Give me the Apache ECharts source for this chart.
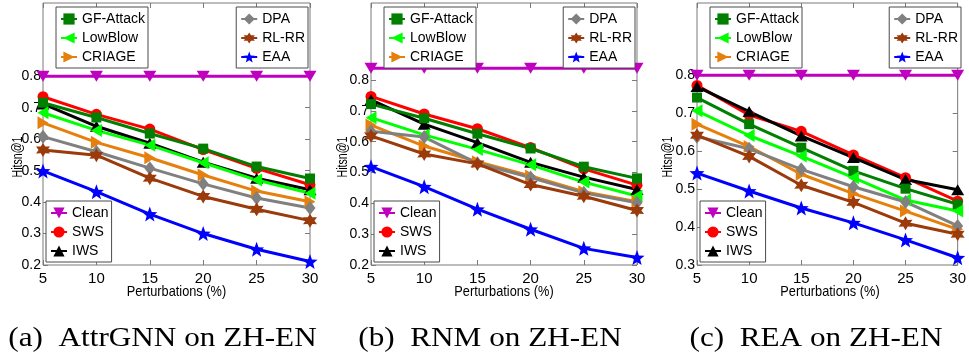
<!DOCTYPE html>
<html>
<head>
<meta charset="utf-8">
<script src="https://cdn.jsdelivr.net/npm/echarts@6/dist/echarts.min.js"></script>
<style>
  html, body { margin: 0; padding: 0; background: #fff; }
  #chart { width: 969px; height: 358px; }
</style>
</head>
<body>
<div id="chart"></div>
<script>
// Perturbation rates (%) on the x axis, shared by the three panels
const perturbations = [5, 10, 15, 20, 25, 30];
const xTicks = [5, 10, 15, 20, 25, 30];

// Panel titles and axis titles
const panelTitles = ['(a)  AttrGNN on ZH-EN', '(b)  RNM on ZH-EN', '(c)  REA on ZH-EN'];
const xTitle = 'Perturbations (%)';
const yTitle = 'Hitsn@1';

// Y tick labels per panel
const yTicksA = [0.2, 0.3, 0.4, 0.5, 0.6, 0.7, 0.8];
const yTicksB = [0.2, 0.3, 0.4, 0.5, 0.6, 0.7, 0.8];
const yTicksC = [0.3, 0.4, 0.5, 0.6, 0.7, 0.8];

// Hits@1 of AttrGNN on ZH-EN
const attrgnnGFAttack = [0.716, 0.669, 0.618, 0.570, 0.513, 0.475];
const attrgnnLowBlow  = [0.684, 0.628, 0.581, 0.525, 0.470, 0.428];
const attrgnnCRIAGE   = [0.652, 0.590, 0.541, 0.486, 0.435, 0.401];
const attrgnnDPA      = [0.608, 0.560, 0.508, 0.458, 0.413, 0.381];
const attrgnnRLRR     = [0.566, 0.549, 0.476, 0.418, 0.377, 0.341];
const attrgnnEAA      = [0.499, 0.433, 0.362, 0.300, 0.250, 0.211];
const attrgnnClean    = [0.800, 0.800, 0.800, 0.800, 0.800, 0.800];
const attrgnnSWS      = [0.735, 0.679, 0.632, 0.567, 0.507, 0.455];
const attrgnnIWS      = [0.712, 0.641, 0.587, 0.527, 0.476, 0.439];

// Hits@1 of RNM on ZH-EN
const rnmGFAttack = [0.722, 0.676, 0.626, 0.578, 0.519, 0.481];
const rnmLowBlow  = [0.678, 0.622, 0.575, 0.525, 0.469, 0.424];
const rnmCRIAGE   = [0.654, 0.586, 0.535, 0.489, 0.438, 0.405];
const rnmDPA      = [0.634, 0.615, 0.530, 0.484, 0.434, 0.402];
const rnmRLRR     = [0.619, 0.560, 0.528, 0.461, 0.423, 0.377];
const rnmEAA      = [0.519, 0.454, 0.381, 0.316, 0.254, 0.224];
const rnmClean    = [0.838, 0.838, 0.838, 0.838, 0.838, 0.838];
const rnmSWS      = [0.747, 0.690, 0.642, 0.581, 0.512, 0.459];
const rnmIWS      = [0.736, 0.657, 0.597, 0.533, 0.485, 0.445];

// Hits@1 of REA on ZH-EN
const reaGFAttack = [0.741, 0.671, 0.609, 0.548, 0.501, 0.460];
const reaLowBlow  = [0.706, 0.641, 0.587, 0.530, 0.471, 0.442];
const reaCRIAGE   = [0.671, 0.612, 0.539, 0.488, 0.442, 0.394];
const reaDPA      = [0.638, 0.606, 0.552, 0.506, 0.466, 0.403];
const reaRLRR     = [0.642, 0.586, 0.510, 0.465, 0.410, 0.381];
const reaEAA      = [0.542, 0.495, 0.450, 0.411, 0.366, 0.319];
const reaClean    = [0.800, 0.800, 0.800, 0.800, 0.800, 0.800];
const reaSWS      = [0.773, 0.695, 0.652, 0.590, 0.530, 0.468];
const reaIWS      = [0.770, 0.704, 0.640, 0.583, 0.525, 0.498];

// Legend groups
const legendTopLeft = ['GF-Attack', 'LowBlow', 'CRIAGE'];
const legendTopRight = ['DPA', 'RL-RR', 'EAA'];
const legendBottomLeft = ['Clean', 'SWS', 'IWS'];

const SANS = "'Liberation Sans', Arial, Helvetica, sans-serif";

function starPath(points, innerRatio) {
  const pts = [];
  for (let k = 0; k < points * 2; k++) {
    const r = (k % 2) ? innerRatio * 50 : 50;
    const a = -Math.PI / 2 + k * Math.PI / points;
    pts.push((50 + r * Math.cos(a)).toFixed(2) + ',' + (50 + r * Math.sin(a)).toFixed(2));
  }
  return 'path://M' + pts.join('L') + 'Z';
}

// Marker and colour for each method
const styles = {
  'Clean':     { color: '#BF00BF', symbol: 'path://M0,0L10,0L5,9Z', size: [13, 11] },
  'SWS':       { color: '#FF0000', symbol: 'circle', size: 11 },
  'IWS':       { color: '#000000', symbol: 'path://M5,0L10,9L0,9Z', size: [13, 11] },
  'GF-Attack': { color: '#007F00', symbol: 'rect', size: 10 },
  'LowBlow':   { color: '#00FF00', symbol: 'path://M0,5L9,0L9,10Z', size: [11, 13] },
  'CRIAGE':    { color: '#E6800D', symbol: 'path://M9,5L0,0L0,10Z', size: [11, 13] },
  'DPA':       { color: '#808080', symbol: 'diamond', size: [11, 14] },
  'RL-RR':     { color: '#9B3A0A', symbol: starPath(6, 0.55), size: 14 },
  'EAA':       { color: '#0000FF', symbol: starPath(5, 0.42), size: 15 }
};

// Drawing order: later series sit on top
const panels = [
  { left: 43, width: 267, yMin: 0.2, yMax: 1.033, yTicks: yTicksA, yNameX: 18,
    series: { 'Clean': attrgnnClean, 'SWS': attrgnnSWS, 'IWS': attrgnnIWS, 'GF-Attack': attrgnnGFAttack,
              'LowBlow': attrgnnLowBlow, 'CRIAGE': attrgnnCRIAGE, 'DPA': attrgnnDPA, 'RL-RR': attrgnnRLRR, 'EAA': attrgnnEAA } },
  { left: 371, width: 266, yMin: 0.2, yMax: 1.05, yTicks: yTicksB, yNameX: 343,
    series: { 'Clean': rnmClean, 'SWS': rnmSWS, 'IWS': rnmIWS, 'GF-Attack': rnmGFAttack,
              'LowBlow': rnmLowBlow, 'CRIAGE': rnmCRIAGE, 'DPA': rnmDPA, 'RL-RR': rnmRLRR, 'EAA': rnmEAA } },
  { left: 697, width: 266, yMin: 0.3, yMax: 0.99, yTicks: yTicksC, yNameX: 668,
    series: { 'Clean': reaClean, 'SWS': reaSWS, 'IWS': reaIWS, 'GF-Attack': reaGFAttack,
              'LowBlow': reaLowBlow, 'CRIAGE': reaCRIAGE, 'DPA': reaDPA, 'RL-RR': reaRLRR, 'EAA': reaEAA } }
];

const GRID_TOP = 3, GRID_HEIGHT = 262;
const FRAME = '#7a7a7a';

const grid = [], xAxis = [], yAxis = [], series = [], legend = [], graphic = [];

panels.forEach((p, i) => {
  grid.push({ left: p.left, top: GRID_TOP, width: p.width, height: GRID_HEIGHT,
              show: true, borderColor: FRAME, borderWidth: 1, backgroundColor: '#fff' });

  const tickStyle = { show: true, inside: true, length: 5, lineStyle: { color: FRAME, width: 1 } };

  xAxis.push({
    type: 'value', gridIndex: i, position: 'bottom', min: 5, max: 30, interval: 5,
    axisLine: { show: false }, splitLine: { show: false },
    axisTick: Object.assign({ customValues: xTicks }, tickStyle),
    axisLabel: { customValues: xTicks, color: '#000', fontFamily: SANS, fontSize: 15, margin: 6 }
  });
  xAxis.push({
    type: 'value', gridIndex: i, position: 'top', min: 5, max: 30, interval: 5,
    axisLine: { show: false }, splitLine: { show: false },
    axisTick: Object.assign({ customValues: xTicks }, tickStyle),
    axisLabel: { show: false }
  });
  yAxis.push({
    type: 'value', gridIndex: i, position: 'left', min: p.yMin, max: p.yMax, interval: 0.1,
    axisLine: { show: false }, splitLine: { show: false },
    axisTick: Object.assign({ customValues: p.yTicks }, tickStyle),
    axisLabel: { customValues: p.yTicks, color: '#000', fontFamily: SANS, fontSize: 14, margin: 2,
                 formatter: v => v.toFixed(1) }
  });
  yAxis.push({
    type: 'value', gridIndex: i, position: 'right', min: p.yMin, max: p.yMax, interval: 0.1,
    axisLine: { show: false }, splitLine: { show: false },
    axisTick: Object.assign({ customValues: p.yTicks }, tickStyle),
    axisLabel: { show: false }
  });

  Object.keys(p.series).forEach(name => {
    const s = styles[name];
    series.push({
      type: 'line', name: name, xAxisIndex: 2 * i, yAxisIndex: 2 * i,
      data: perturbations.map((x, k) => [x, p.series[name][k]]),
      symbol: s.symbol, symbolSize: s.size, showSymbol: true, clip: false,
      lineStyle: { color: s.color, width: 3 },
      itemStyle: { color: s.color },
      animation: false, silent: true
    });
  });

  const right = p.left + p.width;
  const box = (names, pos) => Object.assign({
    data: names, orient: 'vertical', selectedMode: false,
    itemWidth: 16, itemHeight: 14, itemGap: 5, padding: [5, 3, 4, 4],
    borderColor: '#4a4a4a', borderWidth: 1, borderRadius: 0, backgroundColor: '#fff',
    textStyle: { color: '#000', fontFamily: SANS, fontSize: 14, lineHeight: 14 }
  }, pos);
  legend.push(box(legendTopLeft, { left: p.left + 13, top: 7 }));
  legend.push(box(legendTopRight, { right: 969 - right + 2, top: 7 }));
  legend.push(box(legendBottomLeft, { left: p.left + 3, top: 201 }));

  // Axis titles (condensed along the reading direction)
  graphic.push({
    type: 'text', x: p.yNameX, y: 157, rotation: Math.PI / 2, scaleX: 0.76,
    style: { text: yTitle, fill: '#000', font: '14px ' + SANS, textAlign: 'center', textVerticalAlign: 'middle' }
  });
  graphic.push({
    type: 'text', x: p.left + p.width / 2, y: 292, scaleX: 0.88,
    style: { text: xTitle, fill: '#000', font: '14.5px ' + SANS, textAlign: 'center', textVerticalAlign: 'middle' }
  });
  // Panel caption
  graphic.push({
    type: 'text', x: p.left + p.width / 2 - 14, y: 339, scaleX: 1.155,
    style: { text: panelTitles[i], fill: '#000', font: '27px "Liberation Serif", "Times New Roman", serif',
             textAlign: 'center', textVerticalAlign: 'middle' }
  });
});

const chart = echarts.init(document.getElementById('chart'), null, { renderer: 'canvas' });
chart.setOption({
  backgroundColor: '#fff',
  animation: false,
  grid, xAxis, yAxis, series, legend, graphic
});
</script>
</body>
</html>
